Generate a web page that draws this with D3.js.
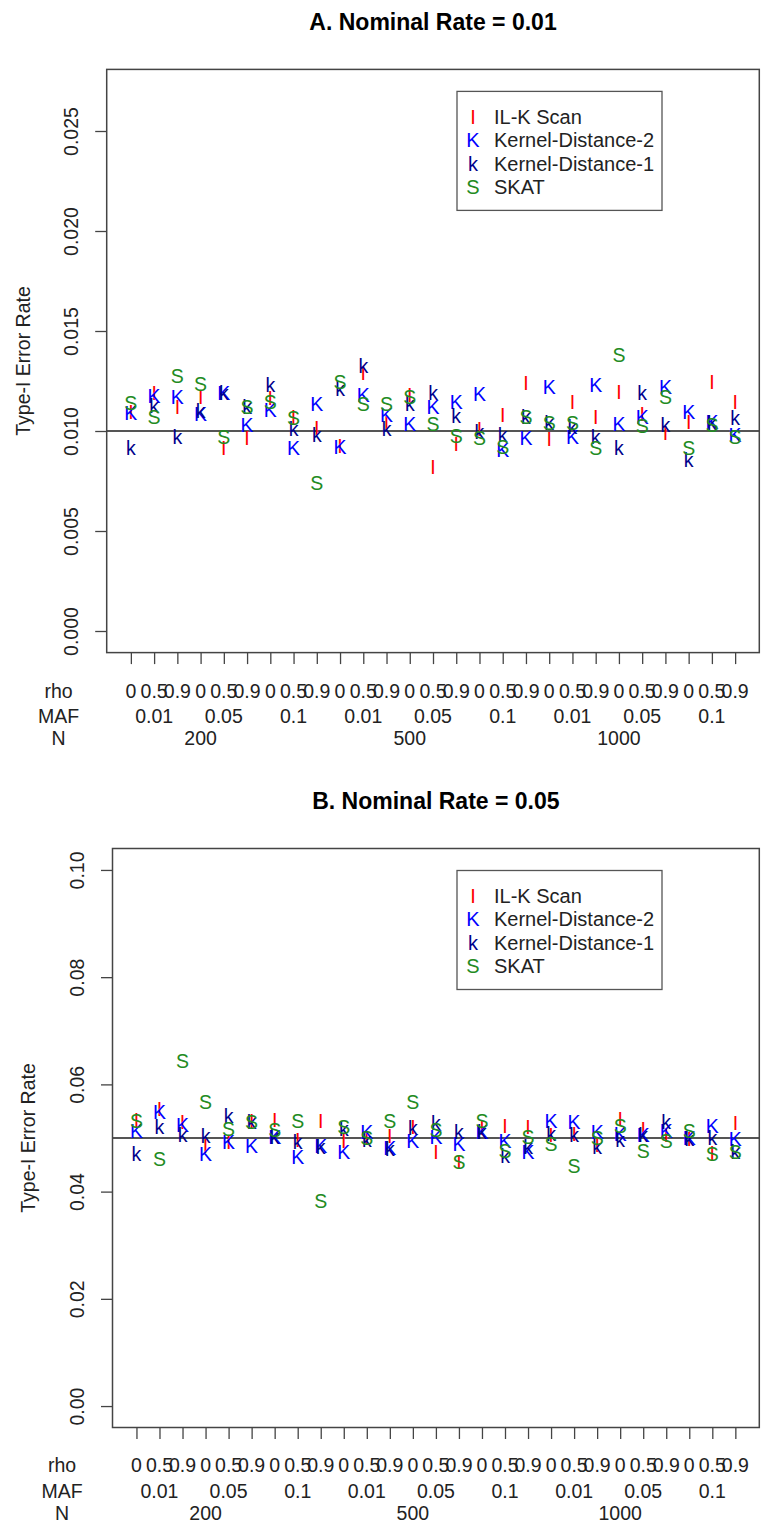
<!DOCTYPE html>
<html>
<head>
<meta charset="utf-8">
<script src="https://cdn.jsdelivr.net/npm/d3@7"></script>
<style>
  html, body { margin: 0; padding: 0; background: #fff; }
  svg text { font-family: "Liberation Sans", Arial, Helvetica, sans-serif; }
</style>
</head>
<body>
<div id="chart"></div>
<script>
// ---------------- data ----------------
const positions = d3.range(1, 28);
const rhoLabels = ["0", "0.5", "0.9"];
const mafLabels = ["0.01", "0.05", "0.1"];
const nLabels = ["200", "500", "1000"];
const seriesNames = ["IL-K Scan", "Kernel-Distance-2", "Kernel-Distance-1", "SKAT"];
const seriesSymbols = ["I", "K", "k", "S"];

const ticksA = [0, 0.005, 0.010, 0.015, 0.020, 0.025];
const tickLabelsA = ["0.000", "0.005", "0.010", "0.015", "0.020", "0.025"];
const ticksB = [0, 0.02, 0.04, 0.06, 0.08, 0.10];
const tickLabelsB = ["0.00", "0.02", "0.04", "0.06", "0.08", "0.10"];

// Panel A (nominal 0.01)
const ilkA = [0.01095,0.01192,0.01122,0.01172,0.00917,0.00963,0.01163,0.01072,0.01013,
              0.00925,0.01288,0.01042,0.01180,0.00822,0.00933,0.01008,0.01080,0.01238,
              0.00962,0.01145,0.01072,0.01193,0.01083,0.00988,0.01047,0.01245,0.01145];
const kd2A = [0.01088,0.01175,0.01172,0.01085,0.01192,0.01030,0.01105,0.00913,0.01135,
              0.00922,0.01180,0.01080,0.01035,0.01122,0.01147,0.01185,0.00905,0.00963,
              0.01218,0.00972,0.01230,0.01035,0.01072,0.01222,0.01097,0.01047,0.00980];
const kd1A = [0.00913,0.01125,0.00972,0.01100,0.01190,0.01120,0.01230,0.01008,0.00980,
              0.01208,0.01325,0.01008,0.01135,0.01192,0.01075,0.00997,0.00980,0.01070,
              0.01040,0.01022,0.00972,0.00913,0.01192,0.01030,0.00855,0.01040,0.01063];
const skatA = [0.01138,0.01068,0.01275,0.01235,0.00972,0.01122,0.01147,0.01063,0.00738,
               0.01247,0.01135,0.01135,0.01172,0.01035,0.00975,0.00963,0.00922,0.01072,
               0.01042,0.01042,0.00913,0.01380,0.01025,0.01172,0.00913,0.01030,0.00972];

// Panel B (nominal 0.05)
const ilkB = [0.05336,0.05541,0.05292,0.04857,0.04932,0.05310,0.05336,0.04956,0.05323,
              0.04950,0.05000,0.05031,0.05199,0.04733,0.04546,0.05187,0.05230,0.05199,
              0.05062,0.05068,0.04876,0.05354,0.05168,0.05062,0.04980,0.04714,0.05286];
const kd2B = [0.05124,0.05491,0.05249,0.04701,0.04919,0.04857,0.05025,0.04652,0.04857,
              0.04733,0.05106,0.04813,0.04950,0.05025,0.04888,0.05106,0.04950,0.04733,
              0.05323,0.05292,0.05106,0.05075,0.05056,0.05137,0.05000,0.05230,0.04980];
const kd1B = [0.04701,0.05211,0.05062,0.05044,0.05417,0.05300,0.05025,0.04919,0.04838,
              0.05168,0.04963,0.04795,0.05187,0.05274,0.05106,0.05118,0.04670,0.04838,
              0.05075,0.05056,0.04838,0.04963,0.05056,0.05292,0.04980,0.05000,0.04733];
const skatB = [0.05323,0.04608,0.06430,0.05665,0.05168,0.05305,0.05149,0.05311,0.03831,
               0.05211,0.05000,0.05323,0.05665,0.05149,0.04546,0.05311,0.04764,0.05012,
               0.04888,0.04484,0.05000,0.05230,0.04764,0.04950,0.05124,0.04701,0.04733];

// ---------------- drawing ----------------
const colors = ["#ff0000", "#0000ff", "#00008b", "#228b22"];
const FS = 19.5;
const LFS = 20;

const svg = d3.select("#chart").append("svg")
  .attr("width", 761).attr("height", 1527)
  .style("display", "block");

function drawPanel(cfg) {
  const g = svg.append("g");
  const x = d3.scaleLinear().domain([1 - 1.04, 27 + 1.04]).range([cfg.left, cfg.right]);
  const r = cfg.ylim[1] - cfg.ylim[0];
  const y = d3.scaleLinear()
    .domain([cfg.ylim[0] - 0.04 * r, cfg.ylim[1] + 0.04 * r])
    .range([cfg.bottom, cfg.top]);

  // title
  g.append("text")
    .attr("x", (cfg.left + cfg.right) / 2).attr("y", cfg.titleY)
    .attr("dy", "0.358em")
    .attr("text-anchor", "middle")
    .style("font-weight", "bold").style("font-size", "23px")
    .text(cfg.title);

  // reference line
  g.append("line")
    .attr("x1", cfg.left).attr("x2", cfg.right)
    .attr("y1", y(cfg.nominal)).attr("y2", y(cfg.nominal))
    .attr("stroke", "#555").attr("stroke-width", 2);

  // y axis
  const yAxis = d3.axisLeft(y).tickValues(cfg.ticks)
    .tickFormat((d, i) => cfg.tickLabels[i]).tickSize(11.5).tickPadding(0);
  const ya = g.append("g").attr("transform", `translate(${cfg.left},0)`).call(yAxis);
  ya.select(".domain").remove();
  ya.selectAll(".tick line").attr("stroke", "#444").attr("stroke-width", 1.3);
  ya.selectAll(".tick text")
    .attr("x", null).attr("dy", null)
    .attr("text-anchor", "middle")
    .attr("transform", "translate(-35.7,0) rotate(-90)")
    .attr("dy", "0.358em")
    .style("font-size", FS + "px").attr("fill", "#222");

  // x axis ticks
  const xAxis = d3.axisBottom(x).tickValues(positions).tickFormat("").tickSize(11.5);
  const xa = g.append("g").attr("transform", `translate(0,${cfg.bottom})`).call(xAxis);
  xa.select(".domain").remove();
  xa.selectAll(".tick line").attr("stroke", "#444").attr("stroke-width", 1.3);

  // box
  g.append("rect")
    .attr("x", cfg.left).attr("y", cfg.top)
    .attr("width", cfg.right - cfg.left).attr("height", cfg.bottom - cfg.top)
    .attr("fill", "none").attr("stroke", "#444").attr("stroke-width", 1.5);

  // y title
  g.append("text")
    .attr("transform", `translate(${cfg.ylabX},${(cfg.top + cfg.bottom) / 2}) rotate(-90)`)
    .attr("text-anchor", "middle").attr("dy", "0.358em")
    .style("font-size", FS + "px").attr("fill", "#222")
    .text("Type-I Error Rate");

  // row labels
  const rows = [["rho", cfg.rowY[0]], ["MAF", cfg.rowY[1]], ["N", cfg.rowY[2]]];
  rows.forEach(([t, yy]) => {
    g.append("text").attr("x", cfg.rowLabX).attr("y", yy).attr("dy", "0.358em")
      .attr("text-anchor", "middle").style("font-size", FS + "px").attr("fill", "#222").text(t);
  });
  positions.forEach((p, i) => {
    g.append("text").attr("x", x(p)).attr("y", cfg.rowY[0]).attr("dy", "0.358em")
      .attr("text-anchor", "middle").style("font-size", FS + "px").attr("fill", "#222")
      .text(rhoLabels[i % 3]);
    if (i % 3 === 1) {
      g.append("text").attr("x", x(p)).attr("y", cfg.rowY[1]).attr("dy", "0.358em")
        .attr("text-anchor", "middle").style("font-size", FS + "px").attr("fill", "#222")
        .text(mafLabels[Math.floor(i / 3) % 3]);
    }
    if (i % 9 === 3) {
      g.append("text").attr("x", x(p)).attr("y", cfg.rowY[2]).attr("dy", "0.358em")
        .attr("text-anchor", "middle").style("font-size", FS + "px").attr("fill", "#222")
        .text(nLabels[Math.floor(i / 9)]);
    }
  });

  // points (character symbols)
  cfg.series.forEach((vals, si) => {
    g.append("g").selectAll("text").data(vals).join("text")
      .attr("x", (d, i) => x(positions[i]))
      .attr("y", d => y(d))
      .attr("dy", "0.358em")
      .attr("text-anchor", "middle")
      .style("font-size", FS + "px")
      .attr("fill", colors[si])
      .text(seriesSymbols[si]);
  });

  // legend
  const lg = g.append("g").attr("transform", `translate(457,${cfg.top + 22})`);
  lg.append("rect").attr("x", 0).attr("y", 0).attr("width", 205).attr("height", 119)
    .attr("fill", "#fff").attr("stroke", "#555").attr("stroke-width", 1.3);
  seriesNames.forEach((nm, i) => {
    const yy = 25 + i * 23.5;
    lg.append("text").attr("x", 16).attr("y", yy).attr("dy", "0.358em")
      .attr("text-anchor", "middle").style("font-size", LFS + "px")
      .attr("fill", colors[i]).text(seriesSymbols[i]);
    lg.append("text").attr("x", 37).attr("y", yy).attr("dy", "0.358em")
      .style("font-size", LFS + "px").attr("fill", "#222").text(nm);
  });
}

drawPanel({
  title: "A. Nominal Rate = 0.01", titleY: 21.7,
  left: 106.7, right: 759.3, top: 69.4, bottom: 652.6,
  ylim: [0, 0.027], nominal: 0.01,
  ticks: ticksA, tickLabels: tickLabelsA,
  ylabX: 23, rowLabX: 58.5, rowY: [691, 716, 738],
  series: [ilkA, kd2A, kd1A, skatA]
});

drawPanel({
  title: "B. Nominal Rate = 0.05", titleY: 801,
  left: 112.5, right: 759.3, top: 848.5, bottom: 1427.5,
  ylim: [0, 0.1], nominal: 0.05,
  ticks: ticksB, tickLabels: tickLabelsB,
  ylabX: 28, rowLabX: 62, rowY: [1465, 1491, 1513],
  series: [ilkB, kd2B, kd1B, skatB]
});
</script>
</body>
</html>
